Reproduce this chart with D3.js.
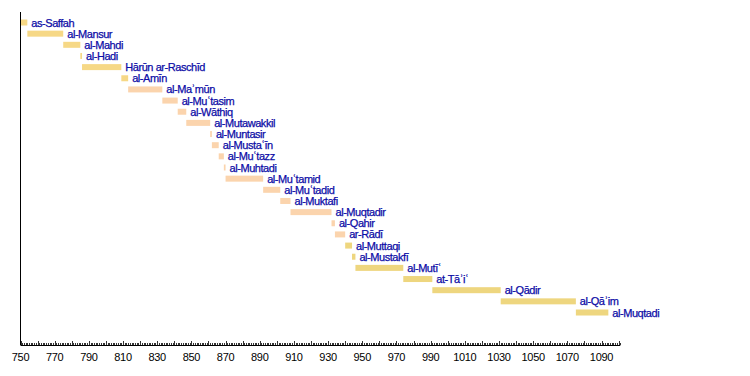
<!DOCTYPE html>
<html>
<head>
<meta charset="utf-8">
<script src="https://cdn.jsdelivr.net/npm/d3@7"></script>
<style>
  body { margin: 0; background: #fff; }
  svg { display: block; }
</style>
</head>
<body>
<div id="chart"></div>
<script>
const caliphs = ["as-Saffah", "al-Mansur", "al-Mahdi", "al-Hadi", "Hārūn ar-Raschīd", "al-Amīn",
  "al-Maʾmūn", "al-Muʿtasim", "al-Wāthiq", "al-Mutawakkil", "al-Muntasir", "al-Mustaʿīn",
  "al-Muʿtazz", "al-Muhtadi", "al-Muʿtamid", "al-Muʿtadid", "al-Muktafi", "al-Muqtadir",
  "al-Qahir", "ar-Rādī", "al-Muttaqi", "al-Mustakfī", "al-Mutīʿ", "at-Tāʾiʿ", "al-Qādir",
  "al-Qāʾim", "al-Muqtadi"];
const reignStart = [750, 754, 775, 785, 786, 809, 813, 833, 842, 847, 861, 862, 866, 869, 870,
  892, 902, 908, 932, 934, 940, 944, 946, 974, 991, 1031, 1075];
const reignEnd = [754, 775, 785, 786, 809, 813, 833, 842, 847, 861, 862, 866, 869, 870, 892,
  902, 908, 932, 934, 940, 944, 946, 974, 991, 1031, 1075, 1094];
// period group: 0 = early, 1 = middle, 2 = late
const period = [0, 0, 0, 0, 0, 0, 1, 1, 1, 1, 1, 1, 1, 1, 1, 1, 1, 1, 1, 1, 2, 2, 2, 2, 2, 2, 2];
const tickYears = d3.range(750, 1091, 20);

const W = 750, H = 376;
const AXIS_Y = 345;
const colors = ["#f6d886", "#fbd4ad", "#eed67f"];
const FONT = "Liberation Sans, Arial, sans-serif";

const svg = d3.select("#chart").append("svg")
  .attr("width", W)
  .attr("height", H);

const x = d3.scaleLinear()
  .domain([750, 1090])
  .range([20.5, 601.5]);

const y = d3.scalePoint()
  .domain(caliphs)
  .range([22.5, 312.5]);

svg.append("defs").append("filter")
  .attr("id", "soft")
  .append("feGaussianBlur")
  .attr("stdDeviation", 0.5);

const rows = caliphs.map((name, i) => ({
  name, start: reignStart[i], end: reignEnd[i], period: period[i]
}));

svg.append("g")
  .attr("filter", "url(#soft)")
  .selectAll("rect")
  .data(rows)
  .join("rect")
  .attr("x", d => x(d.start))
  .attr("y", d => y(d.name) - 3)
  .attr("width", d => Math.max(1.5, x(d.end) - x(d.start)))
  .attr("height", 6)
  .attr("fill", d => colors[d.period]);

svg.append("g")
  .selectAll("text")
  .data(rows)
  .join("text")
  .attr("x", d => x(d.end) + 4)
  .attr("y", d => y(d.name) + 4)
  .attr("font-family", FONT)
  .attr("font-size", 11)
  .attr("letter-spacing", -0.45)
  .attr("fill", "#0c0ca6")
  .attr("stroke", "#0c0ca6")
  .attr("stroke-width", 0.25)
  .text(d => d.name);

// vertical axis line
svg.append("line")
  .attr("x1", x(750)).attr("x2", x(750))
  .attr("y1", 12).attr("y2", AXIS_Y)
  .attr("stroke", "#000");

// horizontal axis with yearly ticks pointing up
const xAxisEnd = 1101;
svg.append("line")
  .attr("x1", x(750)).attr("x2", x(xAxisEnd))
  .attr("y1", AXIS_Y + 0.5).attr("y2", AXIS_Y + 0.5)
  .attr("stroke", "#000");

svg.append("g")
  .selectAll("line")
  .data(d3.range(750, xAxisEnd + 1))
  .join("line")
  .attr("x1", d => Math.round(x(d)) + 0.5)
  .attr("x2", d => Math.round(x(d)) + 0.5)
  .attr("y1", AXIS_Y)
  .attr("y2", d => d % 10 === 0 ? AXIS_Y - 4 : AXIS_Y - 2)
  .attr("stroke", "#000")
  .attr("stroke-width", 0.8);

svg.append("g")
  .selectAll("text")
  .data(tickYears)
  .join("text")
  .attr("x", d => x(d))
  .attr("y", AXIS_Y + 16)
  .attr("text-anchor", "middle")
  .attr("font-family", FONT)
  .attr("font-size", 11)
  .attr("letter-spacing", -0.3)
  .attr("fill", "#000")
  .text(d => d);
</script>
</body>
</html>
